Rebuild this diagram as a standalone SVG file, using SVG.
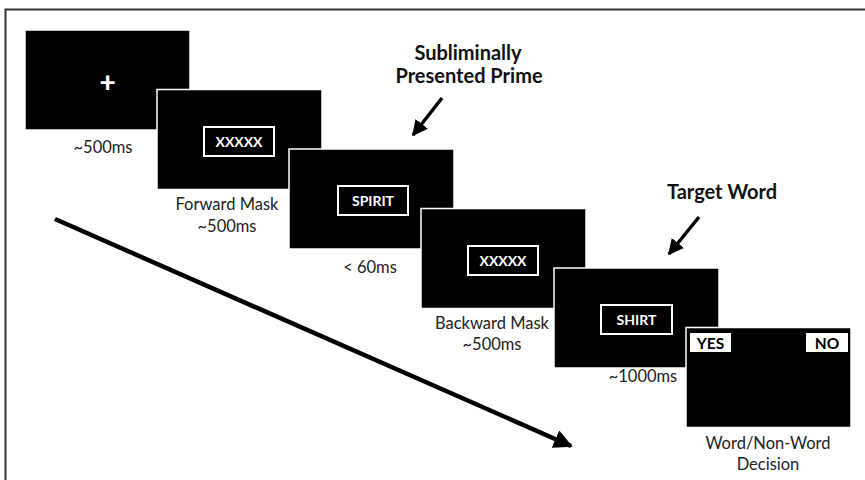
<svg xmlns="http://www.w3.org/2000/svg" width="865" height="480" viewBox="0 0 865 480">
<style>
.scr{fill:#000;stroke:#fff;stroke-width:1.5}
.box{fill:none;stroke:#fff;stroke-width:2}
.bt{font-family:Lato,"Open Sans",sans-serif;font-weight:bold;font-size:14px;fill:#fff;text-anchor:middle}
.lb{font-family:Lato,"Open Sans",sans-serif;font-size:16.5px;fill:#222;text-anchor:middle}
.tt{font-family:Lato,"Open Sans",sans-serif;font-weight:bold;font-size:20px;fill:#111;text-anchor:middle}
.yn{font-family:Lato,"Open Sans",sans-serif;font-weight:bold;font-size:15.5px;fill:#000;text-anchor:middle}
</style>
<defs>
<marker id="ah" viewBox="0 0 10 10" refX="9" refY="5" markerWidth="4.2" markerHeight="4.2" orient="auto" markerUnits="strokeWidth">
<path d="M0,0 L10,5 L0,10 z" fill="#000"/>
</marker>
<marker id="ahs" viewBox="0 0 10 10" refX="9" refY="5" markerWidth="4.5" markerHeight="4.5" orient="auto" markerUnits="strokeWidth">
<path d="M0,0 L10,5 L0,10 z" fill="#000"/>
</marker>
</defs>
<rect width="865" height="480" fill="#fff"/>
<path d="M5.5,480 V9.5 H865" fill="none" stroke="#333" stroke-width="2"/>

<g id="fixation">
<rect class="scr" x="25" y="30" width="165" height="100" stroke="none"/>
<text class="bt" x="107.5" y="92" style="font-size:28px;font-weight:900">+</text>
<text class="lb" x="103" y="153">~500ms</text>
</g>

<g id="forward-mask">
<rect class="scr" x="157" y="89.5" width="165" height="100"/>
<rect class="box" x="204" y="127" width="70" height="29"/>
<text class="bt" x="239" y="146.5">XXXXX</text>
<text class="lb" x="227" y="210">Forward Mask</text>
<text class="lb" x="227" y="232">~500ms</text>
</g>

<g id="prime">
<rect class="scr" x="289" y="149" width="165" height="100"/>
<rect class="box" x="338" y="186" width="70" height="29"/>
<text class="bt" x="373" y="205.5">SPIRIT</text>
<text class="lb" x="370" y="273">&lt; 60ms</text>
</g>

<g id="backward-mask">
<rect class="scr" x="421" y="208.5" width="165" height="100"/>
<rect class="box" x="468" y="246" width="70" height="29"/>
<text class="bt" x="503" y="265.5">XXXXX</text>
<text class="lb" x="492" y="329">Backward Mask</text>
<text class="lb" x="492" y="350">~500ms</text>
</g>

<g id="target">
<rect class="scr" x="554" y="268" width="165" height="100"/>
<rect class="box" x="601" y="305" width="71" height="29"/>
<text class="bt" x="636.5" y="324.5">SHIRT</text>
<text class="lb" x="643" y="382">~1000ms</text>
</g>

<g id="decision">
<rect class="scr" x="686" y="327.5" width="165" height="100"/>
<rect x="690" y="333" width="41" height="19" fill="#fff"/>
<text class="yn" x="710.5" y="348.5">YES</text>
<rect x="806" y="333" width="42" height="19" fill="#fff"/>
<text class="yn" x="827" y="348.5">NO</text>
<text class="lb" x="768" y="449">Word/Non-Word</text>
<text class="lb" x="768" y="470">Decision</text>
</g>

<g id="titles">
<text class="tt" x="468" y="60">Subliminally</text>
<text class="tt" x="469" y="83">Presented Prime</text>
<text class="tt" x="722" y="199">Target Word</text>
</g>

<g id="connectors" stroke="#000" fill="none">
<line x1="442" y1="98" x2="413" y2="135" stroke-width="3.5" marker-end="url(#ahs)"/>
<line x1="699" y1="217" x2="669" y2="254" stroke-width="3.5" marker-end="url(#ahs)"/>
<line x1="55" y1="219" x2="571" y2="446" stroke-width="4.5" marker-end="url(#ah)"/>
</g>
</svg>
